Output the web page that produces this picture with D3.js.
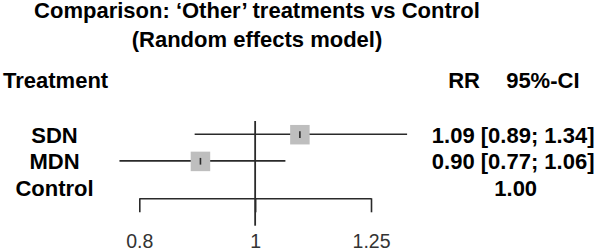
<!DOCTYPE html>
<html>
<head>
<meta charset="utf-8">
<script src="https://cdn.jsdelivr.net/npm/d3@7"></script>
<style>
  html, body { margin: 0; padding: 0; background: #fff; }
  svg { display: block; }
  text { font-family: "Liberation Sans", Arial, sans-serif; }
</style>
</head>
<body>
<svg id="chart" width="596" height="249"></svg>
<script>
// ---- data ----
const titleLines = ["Comparison: \u2018Other\u2019 treatments vs Control", "(Random effects model)"];
const treatments = ["SDN", "MDN", "Control"];
const rr = [1.09, 0.90, 1.00];
const lower = [0.89, 0.77, null];
const upper = [1.34, 1.06, null];
const tickValues = [0.8, 1, 1.25];
const headers = { label: "Treatment", est: "RR", ci: "95%-CI" };

// ---- layout ----
const svg = d3.select("#chart");
const fmt = d3.format(".2f");

const x = d3.scaleLog().domain([0.8, 1.25]).range([139.3, 371]);
const y = d3.scalePoint().domain(treatments).range([134.7, 188.1]);

const ink = "#2a2a2a";

// Title
svg.selectAll("text.title").data(titleLines).enter().append("text")
  .attr("class", "title")
  .attr("x", 257)
  .attr("y", (d, i) => [18.2, 46.8][i])
  .attr("text-anchor", "middle")
  .style("font-size", "22px").style("font-weight", "bold")
  .attr("fill", "#000")
  .text(d => d);

// Headers
svg.append("text").attr("x", 3).attr("y", 87.5)
  .style("font-size", "22px").style("font-weight", "bold").text(headers.label);
svg.append("text").attr("x", 480).attr("y", 87.5).attr("text-anchor", "end")
  .style("font-size", "22px").style("font-weight", "bold").text(headers.est);
svg.append("text").attr("x", 579.5).attr("y", 87.5).attr("text-anchor", "end")
  .style("font-size", "22px").style("font-weight", "bold").text(headers.ci);

const rows = treatments.map((t, i) => ({ t, rr: rr[i], lo: lower[i], hi: upper[i] }));

// Row labels
svg.selectAll("text.rowlab").data(rows).enter().append("text")
  .attr("class", "rowlab")
  .attr("x", 54.5)
  .attr("y", d => y(d.t) + 7.9)
  .attr("text-anchor", "middle")
  .style("font-size", "22px").style("font-weight", "bold")
  .text(d => d.t);

// Effect text column
svg.selectAll("text.eff").data(rows).enter().append("text")
  .attr("class", "eff")
  .attr("x", d => d.lo == null ? 515.7 : 594.5)
  .attr("y", d => y(d.t) + 7.9)
  .attr("text-anchor", d => d.lo == null ? "middle" : "end")
  .style("font-size", "22px").style("font-weight", "bold")
  .text(d => d.lo == null ? fmt(d.rr) : `${fmt(d.rr)} [${fmt(d.lo)}; ${fmt(d.hi)}]`);

// Axis
const axisY = 198.3;
const axis = d3.axisBottom(x)
  .tickValues(tickValues)
  .tickFormat(d => String(d))
  .tickSize(14)
  .tickSizeOuter(0)
  .tickPadding(21.5);
const gAxis = svg.append("g").attr("transform", `translate(0,${axisY})`).call(axis);
gAxis.select(".domain").attr("stroke", ink).attr("stroke-width", 1.6);
gAxis.selectAll(".tick line").attr("stroke", ink).attr("stroke-width", 1.6);
gAxis.selectAll(".tick text")
  .attr("fill", "#333")
  .style("font-family", "'Liberation Sans', Arial, sans-serif")
  .style("font-size", "19.5px");

// Reference line at 1
svg.append("line")
  .attr("x1", x(1)).attr("x2", x(1))
  .attr("y1", 121).attr("y2", 225.7)
  .attr("stroke", ink).attr("stroke-width", 1.8);

const ci = rows.filter(d => d.lo != null);

// CI lines
svg.selectAll("line.ci").data(ci).enter().append("line")
  .attr("class", "ci")
  .attr("x1", d => x(d.lo)).attr("x2", d => x(d.hi))
  .attr("y1", d => y(d.t) - 0.5).attr("y2", d => y(d.t) - 0.5)
  .attr("stroke", ink).attr("stroke-width", 1.6);

// Squares
const sq = 19.5;
svg.selectAll("rect.sq").data(ci).enter().append("rect")
  .attr("class", "sq")
  .attr("x", d => x(d.rr) - sq / 2)
  .attr("y", d => y(d.t) - sq / 2)
  .attr("width", sq).attr("height", sq)
  .attr("fill", "#bebebe");

// Inner tick at point estimate
svg.selectAll("line.pt").data(ci).enter().append("line")
  .attr("class", "pt")
  .attr("x1", d => x(d.rr)).attr("x2", d => x(d.rr))
  .attr("y1", d => y(d.t) - 3.5).attr("y2", d => y(d.t) + 3.2)
  .attr("stroke", ink).attr("stroke-width", 1.6);
</script>
</body>
</html>
